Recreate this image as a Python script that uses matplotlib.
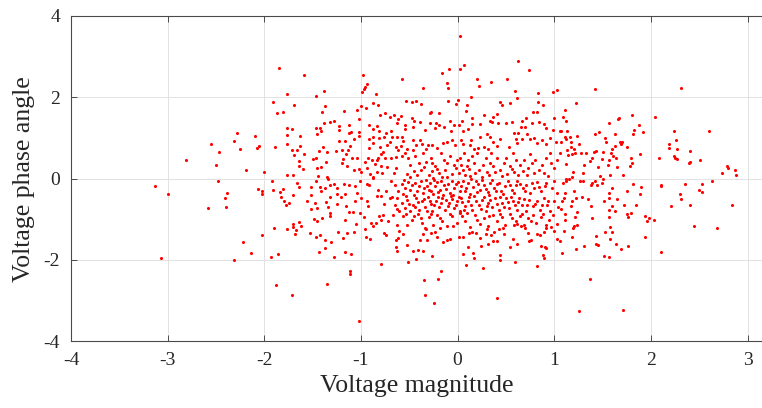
import matplotlib
matplotlib.use('Agg')
import matplotlib.pyplot as plt
import numpy as np

plt.rcParams['font.family'] = ['Liberation Serif', 'DejaVu Serif']
plt.rcParams['axes.unicode_minus'] = False

# points, grouped by area (magnitude, phase angle)
far_left = [(-3.13, -0.18), (-3.00, -0.38), (-2.81, 0.45), (-2.55, 0.85), (-2.50, 0.34), (-2.47, 0.66),
            (-2.48, -0.07), (-2.39, -0.36), (-2.41, -0.47), (-2.31, 0.93), (-2.28, 1.12), (-2.25, 0.72),
            (-2.19, 0.21), (-2.10, 1.05), (-2.08, 0.76), (-2.05, 0.80), (-2.06, -0.25), (-2.58, -0.73),
            (-2.40, -0.70), (-2.22, -1.56), (-2.14, -1.84), (-2.31, -2.00), (-3.07, -1.94)]

extremes = [(0.03, 3.51), (2.87, 0.21), (2.88, 0.09), (2.79, 0.32), (2.80, 0.26), (2.74, 0.14),
            (2.84, -0.66), (-1.02, -3.51), (1.26, -3.25), (1.71, -3.24)]

upper_left = [(-1.85, 2.72), (-1.59, 2.56), (-0.98, 2.55), (-0.94, 2.32), (-0.96, 2.25), (-0.97, 2.20),
              (-0.99, 2.13), (-1.76, 2.07), (-1.46, 2.03), (-1.38, 2.16), (-0.84, 2.07), (-1.91, 1.89),
              (-1.69, 1.80), (-0.87, 1.85), (-0.82, 1.81), (-1.81, 1.64), (-1.87, 1.61), (-1.37, 1.78),
              (-1.40, 1.64), (-1.18, 1.66), (-1.00, 1.79), (-0.95, 1.73), (-1.04, 1.70), (-1.02, 1.47),
              (-1.28, 1.43), (-1.32, 1.39), (-1.38, 1.37), (-1.76, 1.25), (-1.71, 1.23), (-1.46, 1.24),
              (-1.42, 1.25), (-1.41, 1.16), (-1.45, 1.09), (-1.23, 1.30), (-1.23, 1.20), (-1.12, 1.31),
              (-1.10, 1.15), (-1.12, 1.12), (-1.02, 1.15), (-1.02, 1.05), (-1.07, 0.97), (-0.92, 1.32),
              (-0.87, 1.22), (-0.83, 1.29), (-0.80, 1.56), (-0.75, 1.61), (-0.70, 1.52), (-0.66, 1.56),
              (-0.62, 1.46), (-0.63, 1.36), (-0.69, 1.16), (-0.74, 1.12), (-0.81, 1.16), (-0.87, 1.03),
              (-0.92, 0.98), (-0.81, 0.99), (-0.76, 1.03), (-0.68, 1.03), (-0.63, 1.02), (-0.70, 0.91),
              (-0.64, 0.79), (-0.73, 0.83), (-0.80, 0.79), (-0.87, 0.87), (-0.92, 0.75), (-1.77, 1.07),
              (-1.63, 1.04), (-1.77, 0.86), (-1.89, 0.77), (-1.71, 0.70), (-1.66, 0.71), (-1.63, 0.81),
              (-1.69, 0.59), (-1.59, 0.60), (-1.64, 0.44), (-1.64, 0.32), (-1.60, 0.24), (-1.70, 0.10),
              (-1.77, 0.09), (-2.00, 0.17), (-1.50, 0.48), (-1.46, 0.50), (-1.45, 0.27), (-1.41, 0.29),
              (-1.43, 0.68), (-1.39, 0.79), (-1.35, 0.66), (-1.36, 0.42), (-1.44, 0.07), (-1.35, 0.04),
              (-1.26, 0.69), (-1.23, 0.93), (-1.20, 0.70), (-1.16, 0.93), (-1.13, 0.71), (-1.11, 0.80),
              (-1.15, 0.61), (-1.19, 0.48), (-1.20, 0.38), (-1.14, 0.30), (-1.09, 0.52), (-1.04, 0.52),
              (-1.07, 0.22), (-1.02, 0.24), (-1.00, 0.16), (-0.96, 0.40), (-0.93, 0.52), (-0.89, 0.46),
              (-0.94, 0.25), (-0.85, 0.37), (-0.82, 0.52), (-0.83, 0.46), (-0.79, 0.61), (-0.77, 0.66),
              (-0.75, 0.52), (-0.79, 0.31), (-0.73, 0.28), (-0.69, 0.52), (-0.64, 0.54), (-0.62, 0.70),
              (-0.91, 0.12), (-0.83, 0.16), (-0.87, 0.05), (-0.78, 0.15), (-0.66, 0.13), (-0.64, 0.25)]

upper_mid = [(0.63, 2.90), (0.74, 2.68), (0.07, 2.80), (0.03, 2.69), (-0.09, 2.69), (-0.16, 2.59),
             (-0.11, 2.34), (-0.10, 2.24), (0.20, 2.45), (0.22, 2.28), (0.35, 2.37), (0.51, 2.44),
             (0.59, 2.16), (0.61, 1.99), (0.83, 2.10), (0.99, 2.12), (1.03, 2.17), (0.14, 2.02),
             (0.00, 1.93), (-0.10, 1.91), (-0.02, 1.83), (0.10, 1.82), (0.09, 1.66), (-0.57, 2.44),
             (-0.36, 2.24), (-0.53, 1.91), (-0.47, 1.88), (-0.43, 1.92), (-0.38, 1.83), (0.44, 1.89),
             (0.46, 1.82), (0.54, 1.85), (0.83, 1.88), (0.88, 1.82), (0.82, 1.64), (0.78, 1.63),
             (0.41, 1.58), (0.37, 1.51), (0.27, 1.57), (0.15, 1.48), (0.15, 1.35), (0.05, 1.42),
             (-0.59, 1.55), (-0.54, 1.32), (-0.47, 1.49), (-0.45, 1.43), (-0.39, 1.40), (-0.46, 1.26),
             (-0.54, 1.21), (-0.29, 1.62), (-0.28, 1.65), (-0.19, 1.61), (-0.29, 1.36), (-0.22, 1.38),
             (-0.19, 1.32), (-0.14, 1.27), (-0.23, 1.25), (-0.34, 1.20), (-0.08, 1.43), (-0.04, 1.32),
             (-0.07, 1.17), (0.01, 1.32), (0.06, 1.18), (0.11, 1.21), (0.23, 1.34), (0.34, 1.42),
             (0.36, 1.40), (0.42, 1.38), (0.50, 1.38), (0.56, 1.39), (0.67, 1.41), (0.71, 1.48),
             (0.66, 1.27), (0.70, 1.28), (0.77, 1.38), (0.84, 1.39), (0.89, 1.35), (0.92, 1.25),
             (1.00, 1.48), (0.99, 1.20), (1.06, 1.17),
             (-0.58, 1.02), (-0.56, 0.93), (-0.59, 0.81), (-0.52, 0.73), (-0.46, 0.95), (-0.43, 0.83),
             (-0.39, 0.95), (-0.37, 0.85), (-0.33, 0.72), (-0.31, 0.82), (-0.26, 0.83), (-0.21, 0.76),
             (-0.15, 0.88), (-0.11, 0.90), (-0.06, 0.96), (-0.03, 0.83), (0.04, 0.95), (0.06, 0.84),
             (0.14, 0.95), (0.13, 0.83), (0.17, 0.74), (0.21, 0.76), (0.23, 1.03), (0.30, 1.11),
             (0.34, 1.02), (0.37, 0.89), (0.27, 0.79), (0.31, 0.74), (0.41, 0.80), (0.44, 0.97),
             (0.58, 1.13), (0.63, 1.12), (0.60, 0.97), (0.53, 0.79), (0.62, 0.87), (0.67, 0.98),
             (0.72, 1.10), (0.75, 0.98), (0.79, 0.99), (0.82, 0.87), (0.87, 0.95), (0.91, 0.84),
             (0.96, 0.99), (1.02, 0.91),
             (-0.57, 0.56), (-0.51, 0.50), (-0.46, 0.70), (-0.44, 0.56), (-0.40, 0.38), (-0.49, 0.34),
             (-0.45, 0.20), (-0.38, 0.21), (-0.33, 0.42), (-0.28, 0.52), (-0.26, 0.38), (-0.21, 0.23),
             (-0.26, 0.18), (-0.30, 0.09), (-0.19, 0.13), (-0.14, 0.46), (-0.11, 0.38), (-0.08, 0.56),
             (-0.04, 0.34), (-0.01, 0.46), (0.03, 0.52), (0.04, 0.34), (0.01, 0.15), (0.06, 0.21),
             (0.10, 0.30), (0.11, 0.46), (0.15, 0.56), (0.17, 0.38), (0.20, 0.62), (0.22, 0.21),
             (0.26, 0.34), (0.29, 0.50), (0.30, 0.17), (0.34, 0.38), (0.37, 0.30), (0.41, 0.50),
             (0.44, 0.21), (0.48, 0.38), (0.50, 0.52), (0.54, 0.30), (0.58, 0.17), (0.60, 0.46),
             (0.65, 0.34), (0.69, 0.46), (0.73, 0.25), (0.77, 0.38), (0.80, 0.46), (0.84, 0.21),
             (0.87, 0.34), (0.92, 0.50), (0.97, 0.38), (1.00, 0.25), (1.03, 0.46), (-0.11, 0.05),
             (0.13, 0.07), (0.46, 0.07), (0.72, 0.09), (0.94, 0.07), (-0.49, 0.05), (-0.25, 0.01)]

upper_right = [(1.42, 2.20), (2.31, 2.22), (1.23, 1.87), (1.11, 1.68), (1.09, 1.52), (1.12, 1.43),
               (1.81, 1.57), (2.04, 1.51), (1.67, 1.50), (1.66, 1.47), (1.57, 1.37), (1.88, 1.31),
               (1.83, 1.20), (1.92, 1.14), (1.82, 1.09), (2.24, 1.16), (2.60, 1.16), (2.26, 0.94),
               (2.19, 0.86), (2.19, 0.76), (2.27, 0.74), (2.40, 0.69), (2.08, 0.50), (2.24, 0.56),
               (2.25, 0.52), (2.27, 0.48), (2.39, 0.38), (2.41, 0.41), (2.51, 0.45), (1.07, 1.17),
               (1.13, 1.16), (1.11, 1.02), (1.12, 0.97), (1.07, 0.89), (1.16, 1.02), (1.17, 0.91),
               (1.24, 1.05), (1.26, 0.84), (1.17, 0.79), (1.20, 0.74), (1.21, 0.62), (1.13, 0.70),
               (1.14, 0.57), (1.18, 0.60), (1.06, 0.62), (1.28, 0.64), (1.33, 0.62), (1.42, 1.10),
               (1.46, 1.15), (1.53, 1.01), (1.54, 0.89), (1.63, 1.09), (1.68, 0.91), (1.70, 0.91),
               (1.69, 0.86), (1.63, 0.81), (1.75, 0.79), (1.60, 0.73), (1.59, 0.64), (1.43, 0.69),
               (1.41, 0.66), (1.50, 0.66), (1.61, 0.56), (1.64, 0.52), (1.57, 0.45), (1.49, 0.49),
               (1.39, 0.50), (1.37, 0.43), (1.31, 0.33), (1.45, 0.28), (1.56, 0.34), (1.65, 0.29),
               (1.79, 0.51), (1.81, 0.39), (1.78, 0.31), (1.89, 0.60), (1.71, 0.09), (1.58, 0.10),
               (1.47, 0.07), (1.30, 0.13), (1.19, 0.17), (1.18, 0.05), (1.12, 0.35), (1.12, 0.00)]

lower_left = [(-1.92, -0.05), (-1.91, -0.28), (-1.81, -0.25), (-1.84, -0.33), (-1.83, -0.45), (-1.80, -0.54),
              (-1.74, -0.59), (-1.78, -0.66), (-1.70, -0.39), (-2.02, -0.31), (-2.02, -0.38), (-1.90, -1.21),
              (-2.02, -1.38), (-1.93, -1.93), (-1.86, -1.86), (-1.88, -2.62), (-1.71, -2.86), (-1.35, -2.59),
              (-1.43, -1.81), (-1.28, -1.93), (-1.37, -1.70), (-1.37, -1.51), (-1.31, -1.57), (-1.42, -1.38),
              (-1.47, -1.43), (-1.53, -1.34), (-1.62, -1.17), (-1.67, -1.27), (-1.68, -1.35), (-1.70, -1.19),
              (-1.70, -1.11), (-1.64, -1.07), (-1.76, -1.25), (-1.49, -1.00), (-1.45, -1.03), (-1.40, -0.97),
              (-1.56, -0.54), (-1.52, -0.39), (-1.52, -0.20), (-1.48, -0.59), (-1.52, -0.74), (-1.45, -0.71),
              (-1.34, -0.70), (-1.32, -0.84), (-1.32, -0.91), (-1.36, -0.57), (-1.32, -0.44), (-1.25, -0.63),
              (-1.25, -0.38), (-1.21, -0.46), (-1.17, -0.37), (-1.17, -1.01), (-1.24, -1.31), (-1.19, -1.46),
              (-1.14, -1.34), (-1.17, -1.80), (-1.10, -1.86), (-1.11, -2.26), (-1.11, -2.34), (-1.07, -1.32),
              (-1.05, -1.11), (-0.96, -1.25), (-0.95, -1.44), (-0.91, -1.48), (-0.97, -0.95), (-0.90, -1.10),
              (-0.87, -1.17), (-0.84, -1.10), (-0.81, -0.91), (-0.79, -1.01), (-0.77, -0.89), (-0.72, -1.03),
              (-0.76, -1.34), (-0.74, -1.38), (-0.64, -1.52), (-0.64, -1.69), (-0.63, -1.79), (-0.79, -2.11),
              (-1.15, -0.68), (-1.12, -0.83), (-1.06, -0.54), (-1.08, -0.83), (-1.01, -0.84), (-0.93, -0.68),
              (-0.94, -0.54), (-1.04, -0.35), (-1.00, -0.48), (-0.83, -0.42), (-0.79, -0.42), (-0.76, -0.63),
              (-0.70, -0.48), (-0.68, -0.45), (-0.63, -0.48), (-0.65, -0.64), (-0.63, -0.74), (-0.61, -0.80),
              (-0.67, -0.89), (-0.63, -1.13), (-0.61, -1.28), (-0.62, -1.46), (-1.42, -0.21), (-1.41, -0.30),
              (-1.37, -0.23), (-1.32, -0.16), (-1.28, -0.13), (-1.25, -0.23), (-1.18, -0.13), (-1.12, -0.16),
              (-1.06, -0.19), (-1.01, -0.07), (-0.94, -0.12), (-0.92, -0.16), (-0.88, 0.02), (-0.82, -0.29),
              (-0.74, -0.30), (-0.69, -0.07), (-0.65, -0.16), (-0.62, -0.31), (-1.46, -0.07), (-1.66, -0.11),
              (-1.64, -0.21), (-1.34, -0.02)]

lower_mid_sparse = [(-0.35, -2.50), (-0.34, -2.87), (-0.24, -3.06), (-0.20, -2.47), (-0.17, -2.26), (0.41, -2.94),
                    (0.26, -2.20), (0.09, -2.13), (0.06, -1.85), (0.16, -1.84), (0.17, -1.95), (0.44, -1.88),
                    (0.44, -1.99), (0.59, -2.05), (0.82, -2.16), (0.88, -1.87), (0.89, -1.95), (0.86, -1.66),
                    (0.90, -1.67), (0.92, -1.70), (0.74, -1.53), (0.61, -1.60), (0.54, -1.68), (0.32, -1.60),
                    (0.37, -1.54), (0.41, -1.54), (0.24, -1.66), (0.11, -1.68), (0.06, -1.44), (0.01, -1.44),
                    (-0.26, -1.89), (-0.36, -1.79), (-0.43, -1.98), (-0.51, -2.05), (-0.46, -1.77), (-0.41, -1.75),
                    (-0.52, -1.62), (-0.56, -1.36), (-0.39, -1.50), (-0.32, -1.51), (-0.23, -1.30), (-0.21, -1.44),
                    (-0.15, -1.57), (-0.11, -1.50), (-0.36, -1.35), (-0.33, -1.25), (-0.28, -1.34), (-0.18, -1.21),
                    (-0.08, -1.48), (-0.05, -1.16), (0.12, -1.34), (0.15, -1.31), (0.19, -1.34), (0.23, -1.46),
                    (0.29, -1.36), (0.30, -1.25), (0.35, -1.38), (0.38, -1.30), (0.43, -1.25), (0.47, -1.21),
                    (0.48, -1.36), (0.57, -1.48), (0.58, -1.13), (0.62, -1.11), (0.66, -1.17), (0.70, -1.21),
                    (0.73, -1.34), (0.76, -1.52), (0.82, -1.36), (0.85, -1.38), (0.89, -1.30), (0.92, -1.21),
                    (0.97, -1.20), (1.00, -1.29), (1.03, -1.48)]

lower_mid_dense = [(-0.57, -0.13), (-0.54, -0.23), (-0.53, -0.43), (-0.51, -0.08), (-0.47, -0.15), (-0.44, -0.11),
                   (-0.42, -0.31), (-0.38, -0.05), (-0.35, -0.23), (-0.32, -0.19), (-0.29, -0.11), (-0.27, -0.31),
                   (-0.23, -0.19), (-0.21, -0.08), (-0.18, -0.27), (-0.14, -0.15), (-0.10, -0.13), (-0.08, -0.35),
                   (-0.04, -0.23), (0.00, -0.08), (0.04, -0.19), (0.08, -0.31), (0.11, -0.11), (0.16, -0.21),
                   (0.19, -0.07), (0.23, -0.27), (0.27, -0.15), (0.31, -0.33), (0.34, -0.11), (0.38, -0.23),
                   (0.41, -0.13), (0.45, -0.31), (0.49, -0.19), (0.52, -0.07), (0.56, -0.27), (0.60, -0.15),
                   (0.62, -0.05), (0.68, -0.23), (0.71, -0.15), (0.75, -0.35), (0.79, -0.23), (0.82, -0.08),
                   (0.86, -0.31), (0.90, -0.19), (0.92, -0.11), (0.98, -0.23), (1.00, -0.07), (1.03, -0.35),
                   (-0.58, -0.60), (-0.54, -0.72), (-0.52, -0.52), (-0.49, -0.80), (-0.46, -0.64), (-0.43, -0.48),
                   (-0.40, -0.76), (-0.37, -0.56), (-0.34, -0.70), (-0.31, -0.46), (-0.28, -0.62), (-0.26, -0.80),
                   (-0.22, -0.54), (-0.19, -0.70), (-0.16, -0.48), (-0.13, -0.76), (-0.09, -0.60), (-0.07, -0.43),
                   (-0.04, -0.72), (-0.01, -0.56), (0.02, -0.80), (0.04, -0.48), (0.08, -0.68), (0.11, -0.56),
                   (0.15, -0.76), (0.17, -0.43), (0.22, -0.64), (0.25, -0.52), (0.29, -0.80), (0.32, -0.60),
                   (0.36, -0.70), (0.39, -0.48), (0.43, -0.76), (0.46, -0.60), (0.50, -0.48), (0.53, -0.72),
                   (0.57, -0.56), (0.61, -0.76), (0.64, -0.48), (0.67, -0.64), (0.71, -0.80), (0.74, -0.52),
                   (0.78, -0.68), (0.82, -0.56), (0.85, -0.76), (0.89, -0.48), (0.93, -0.64), (0.96, -0.80),
                   (1.00, -0.56), (1.04, -0.70),
                   (-0.56, -0.93), (-0.52, -1.13), (-0.47, -1.01), (-0.41, -0.87), (-0.37, -1.09), (-0.34, -1.21),
                   (-0.30, -0.95), (-0.25, -1.13), (-0.21, -0.89), (-0.16, -1.05), (-0.11, -1.17), (-0.06, -0.93),
                   (-0.01, -1.09), (0.03, -0.84), (0.08, -1.03), (0.13, -1.20), (0.18, -0.90), (0.23, -1.11),
                   (0.27, -0.97), (0.31, -1.17), (0.37, -0.89), (0.41, -1.05), (0.46, -0.95), (0.49, -1.13),
                   (0.54, -0.87), (0.60, -1.03), (0.65, -0.93), (0.69, -1.13), (0.73, -0.97), (0.78, -0.89),
                   (0.81, -1.09), (0.86, -0.95), (0.91, -1.13), (0.95, -1.01), (0.99, -0.89), (1.03, -1.11)]

# second reading of the crowded core, between the dots above
core_extra = [(-0.55, -0.03), (-0.49, -0.27), (-0.45, -0.40), (-0.40, -0.17), (-0.36, -0.36), (-0.33, -0.03),
              (-0.30, -0.27), (-0.25, -0.38), (-0.24, -0.04), (-0.20, -0.33), (-0.17, -0.06), (-0.15, -0.40),
              (-0.12, -0.25), (-0.06, -0.06), (-0.05, -0.41), (-0.02, -0.14), (0.02, -0.30), (0.06, -0.05),
              (0.09, -0.22), (0.13, -0.38), (0.14, -0.02), (0.20, -0.33), (0.21, -0.13), (0.25, -0.03),
              (0.29, -0.25), (0.33, -0.39), (0.36, -0.04), (0.40, -0.30), (0.43, -0.10), (0.47, -0.38),
              (0.54, -0.15), (0.58, -0.35), (0.65, -0.12), (0.70, -0.30), (0.77, -0.10), (0.84, -0.20),
              (-0.56, -0.38), (-0.50, -0.62), (-0.44, -0.70), (-0.41, -0.58), (-0.35, -0.50), (-0.32, -0.80),
              (-0.29, -0.54), (-0.24, -0.66), (-0.20, -0.45), (-0.17, -0.60), (-0.12, -0.52), (-0.10, -0.68),
              (-0.06, -0.50), (-0.02, -0.64), (0.01, -0.44), (0.05, -0.58), (0.07, -0.78), (0.12, -0.46),
              (0.14, -0.66), (0.19, -0.55), (0.24, -0.74), (0.27, -0.44), (0.30, -0.68), (0.34, -0.53),
              (0.41, -0.62), (0.44, -0.45), (0.48, -0.70), (0.52, -0.58), (0.55, -0.45), (0.59, -0.66),
              (0.63, -0.57), (0.69, -0.50), (0.72, -0.66), (0.80, -0.62), (0.87, -0.66), (0.94, -0.55),
              (-0.53, -0.86), (-0.45, -0.92), (-0.38, -0.97), (-0.28, -0.88), (-0.18, -0.97), (-0.08, -0.86),
              (0.05, -0.92), (0.10, -0.85), (0.20, -1.02), (0.33, -0.92), (0.44, -0.86), (0.56, -0.96),
              (0.67, -0.86), (0.76, -1.05), (0.88, -0.88),
              (-0.52, 0.12), (-0.42, 0.08), (-0.35, 0.28), (-0.23, 0.31), (-0.16, 0.05), (-0.13, 0.22),
              (-0.06, 0.12), (-0.02, 0.25), (0.08, 0.10), (0.12, 0.24), (0.18, 0.14), (0.25, 0.05),
              (0.33, 0.10), (0.39, 0.16), (0.51, 0.12), (0.56, 0.24), (0.63, 0.08), (0.68, 0.18),
              (0.79, 0.15), (0.89, 0.13), (-0.54, 0.64), (-0.36, 0.62), (-0.17, 0.62), (0.07, 0.64),
              (0.35, 0.63), (0.57, 0.64), (0.75, 0.60), (0.96, 0.62)]

lower_right = [(1.37, -2.47), (2.11, -1.80), (2.45, -1.17), (2.68, -1.21), (2.21, -0.68), (2.40, -0.64),
               (2.30, -0.37), (2.31, -0.49), (2.10, -0.19), (2.10, -0.15), (2.35, -0.13), (2.50, -0.28),
               (2.53, -0.34), (2.53, -0.12), (2.63, -0.07), (2.03, -1.01), (1.98, -0.98), (1.96, -1.05),
               (1.94, -0.93), (1.94, -1.43), (1.82, -0.12), (1.90, -0.20), (1.89, -0.37), (1.75, -0.31),
               (1.85, -0.65), (1.72, -0.66), (1.75, -0.87), (1.76, -0.95), (1.79, -0.84), (1.60, -1.30),
               (1.76, -1.66), (1.69, -1.73), (1.64, -1.61), (1.58, -1.48), (1.58, -1.20), (1.53, -1.32),
               (1.57, -1.93), (1.52, -1.89), (1.45, -1.64), (1.43, -1.61), (1.43, -1.40), (1.31, -1.66),
               (1.23, -1.72), (1.18, -1.43), (1.08, -1.82), (1.06, -1.54), (1.10, -1.28), (1.19, -1.21),
               (1.20, -1.16), (1.24, -1.15), (1.22, -0.95), (1.11, -1.02), (1.39, -0.98), (1.57, -0.95),
               (1.57, -0.76), (1.60, -0.68), (1.63, -0.79), (1.24, -0.81), (1.17, -0.68), (1.11, -0.87),
               (1.07, -0.74), (1.08, -0.54), (1.10, -0.48), (1.18, -0.56), (1.23, -0.48), (1.29, -0.46),
               (1.35, -0.49), (1.38, -0.68), (1.52, -0.54), (1.57, -0.48), (1.57, -0.35), (1.60, -0.23),
               (1.65, -0.49), (1.27, -0.07), (1.30, -0.05), (1.39, -0.11), (1.38, -0.16), (1.42, -0.05),
               (1.44, -0.15), (1.49, -0.11), (1.50, -0.02), (1.15, -0.02), (1.12, -0.07), (1.09, -0.11),
               (1.20, -0.31), (1.11, -0.35)]

x_ticks = [-4, -3, -2, -1, 0, 1, 2, 3]
y_ticks = [-4, -2, 0, 2, 4]

pts = np.array(far_left + extremes + upper_left + upper_mid + upper_right + lower_left +
               lower_mid_sparse + lower_mid_dense + core_extra + lower_right)

fig = plt.figure(figsize=(7.62, 4.08), dpi=100)
ax = fig.add_axes([71 / 762, 66.7 / 408, 691 / 762, 325.3 / 408])

ax.scatter(pts[:, 0], pts[:, 1], s=5, color='red', linewidths=0, zorder=3)

ax.set_xlim(-4, 3.15)
ax.set_ylim(-4, 4)
ax.set_xticks(x_ticks)
ax.set_yticks(y_ticks)
ax.grid(True, color='#e2e2e2', linewidth=0.7)
ax.set_axisbelow(True)

for side in ['left', 'bottom', 'top']:
    ax.spines[side].set_color('#4a4a4a')
    ax.spines[side].set_linewidth(0.8)
ax.spines['right'].set_visible(False)
ax.tick_params(direction='in', top=True, right=False, length=4, width=0.7,
               color='#4a4a4a', labelsize=14, labelcolor='#262626', pad=8)

ax.set_xlabel('Voltage magnitude', fontsize=18.5, color='#262626', labelpad=4)
ax.set_ylabel('Voltage phase angle', fontsize=18.5, color='#262626', labelpad=6)

fig.savefig('out.png', dpi=100)
